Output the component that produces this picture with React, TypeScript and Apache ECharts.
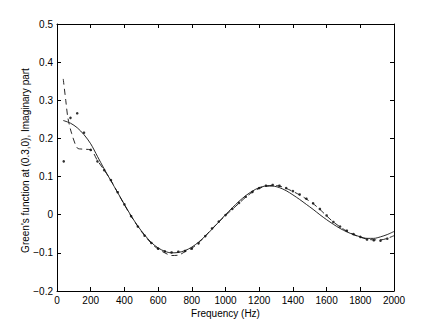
import React, { useEffect, useRef } from "react";
import * as echarts from "echarts";

const dotFreq = [40, 80, 120, 160, 200, 240, 280, 320, 360, 400, 440, 480, 520, 560, 600, 640, 680, 720, 760, 800, 840, 880, 920, 960, 1000, 1040, 1080, 1120, 1160, 1200, 1240, 1280, 1320, 1360, 1400, 1440, 1480, 1520, 1560, 1600, 1640, 1680, 1720, 1760, 1800, 1840, 1880, 1920, 1960];
const dotVal = [0.14, 0.254, 0.266, 0.215, 0.17, 0.14, 0.117, 0.091, 0.059, 0.027, -0.004, -0.031, -0.055, -0.074, -0.089, -0.096, -0.099, -0.097, -0.095, -0.089, -0.075, -0.056, -0.036, -0.018, -0.001, 0.015, 0.031, 0.047, 0.06, 0.07, 0.076, 0.078, 0.076, 0.07, 0.062, 0.053, 0.042, 0.03, 0.015, -0.002, -0.019, -0.031, -0.042, -0.051, -0.058, -0.065, -0.067, -0.068, -0.063];

const dashFreq = [37, 52, 65, 87, 120, 150, 200, 240, 280, 320, 360, 400, 440, 480, 520, 560, 600, 640, 680, 720, 760, 800, 840, 880, 920, 960, 1000, 1040, 1080, 1120, 1160, 1200, 1240, 1280, 1320, 1360, 1400, 1440, 1480, 1520, 1560, 1600, 1640, 1680, 1720, 1760, 1800, 1840, 1880, 1920, 1960, 2000];
const dashVal = [0.356, 0.3, 0.253, 0.213, 0.175, 0.172, 0.17, 0.142, 0.117, 0.09, 0.058, 0.026, -0.004, -0.031, -0.055, -0.075, -0.09, -0.1, -0.107, -0.106, -0.097, -0.088, -0.074, -0.056, -0.037, -0.019, -0.002, 0.014, 0.03, 0.046, 0.059, 0.069, 0.075, 0.077, 0.075, 0.069, 0.061, 0.052, 0.041, 0.029, 0.014, -0.003, -0.019, -0.032, -0.043, -0.052, -0.059, -0.064, -0.066, -0.066, -0.062, -0.055];

const solidFreq = [37, 80, 120, 160, 200, 240, 280, 320, 360, 400, 440, 480, 520, 560, 600, 640, 680, 720, 760, 800, 840, 880, 920, 960, 1000, 1040, 1080, 1120, 1160, 1200, 1240, 1280, 1320, 1360, 1400, 1440, 1480, 1520, 1560, 1600, 1640, 1680, 1720, 1760, 1800, 1840, 1880, 1920, 1960, 2000];
const solidVal = [0.247, 0.24, 0.228, 0.21, 0.186, 0.153, 0.12, 0.089, 0.058, 0.027, -0.003, -0.03, -0.053, -0.073, -0.087, -0.096, -0.1, -0.099, -0.094, -0.085, -0.072, -0.056, -0.038, -0.019, 0.0, 0.018, 0.035, 0.05, 0.062, 0.071, 0.075, 0.075, 0.071, 0.063, 0.052, 0.04, 0.027, 0.014, 0.0, -0.013, -0.025, -0.036, -0.045, -0.052, -0.058, -0.062, -0.062, -0.058, -0.052, -0.044];

const xTitle = "Frequency (Hz)";
const yTitle = "Green's function at (0.3,0), Imaginary part";

const pairs = (xs: number[], ys: number[]) => xs.map((x, i) => [x, ys[i]]);

export default function App() {
  const ref = useRef<HTMLDivElement>(null);
  useEffect(() => {
    if (!ref.current) return;
    document.body.style.margin = "0";
    const chart = echarts.init(ref.current, undefined, { renderer: "svg" });
    const font = "Liberation Sans, Arial, Helvetica, sans-serif";
    const axisCommon = {
      axisLine: { show: true, onZero: false, lineStyle: { color: "#000", width: 1 } },
      axisTick: { show: true, inside: true, length: 4, lineStyle: { color: "#000", width: 1 } },
      splitLine: { show: false },
    };
    chart.setOption({
      animation: false,
      backgroundColor: "#fff",
      grid: { left: 57, right: 42, top: 24, bottom: 37, containLabel: false },
      xAxis: [
        {
          type: "value",
          min: 0,
          max: 2000,
          interval: 200,
          ...axisCommon,
          axisLabel: {
            color: "#000",
            fontSize: 10,
            fontFamily: font,
            margin: 4,
            formatter: (v: number) => String(Math.round(v)),
          },
          name: xTitle,
          nameLocation: "middle",
          nameGap: 17,
          nameMoveOverlap: false,
          nameTextStyle: { color: "#000", fontSize: 10, fontFamily: font },
        },
        {
          type: "value",
          position: "top",
          min: 0,
          max: 2000,
          interval: 200,
          ...axisCommon,
          axisLabel: { show: false },
        },
      ],
      yAxis: [
        {
          type: "value",
          min: -0.2,
          max: 0.5,
          interval: 0.1,
          ...axisCommon,
          axisLabel: {
            color: "#000",
            fontSize: 10,
            fontFamily: font,
            margin: 4,
            formatter: (v: number) => {
              const r = Math.round(v * 10) / 10;
              return r === 0 ? "0" : r.toFixed(1).replace("-", "\u2212");
            },
          },
          name: yTitle,
          nameLocation: "middle",
          nameGap: 27,
          nameMoveOverlap: false,
          nameTextStyle: { color: "#000", fontSize: 10, fontFamily: font, padding: [0, 6, 0, 0] },
        },
        {
          type: "value",
          position: "right",
          min: -0.2,
          max: 0.5,
          interval: 0.1,
          ...axisCommon,
          axisLabel: { show: false },
        },
      ],
      series: [
        {
          type: "line",
          data: pairs(solidFreq, solidVal),
          smooth: 0.3,
          showSymbol: false,
          lineStyle: { color: "#111", width: 0.9, type: "solid" },
        },
        {
          type: "line",
          data: pairs(dashFreq, dashVal),
          smooth: 0.3,
          showSymbol: false,
          lineStyle: { color: "#111", width: 0.9, type: [6, 4] },
        },
        {
          type: "scatter",
          data: pairs(dotFreq, dotVal),
          symbol: "circle",
          symbolSize: 2.6,
          itemStyle: { color: "#000" },
        },
      ],
    });
    return () => chart.dispose();
  }, []);
  return <div ref={ref} style={{ width: 436, height: 328 }} />;
}
